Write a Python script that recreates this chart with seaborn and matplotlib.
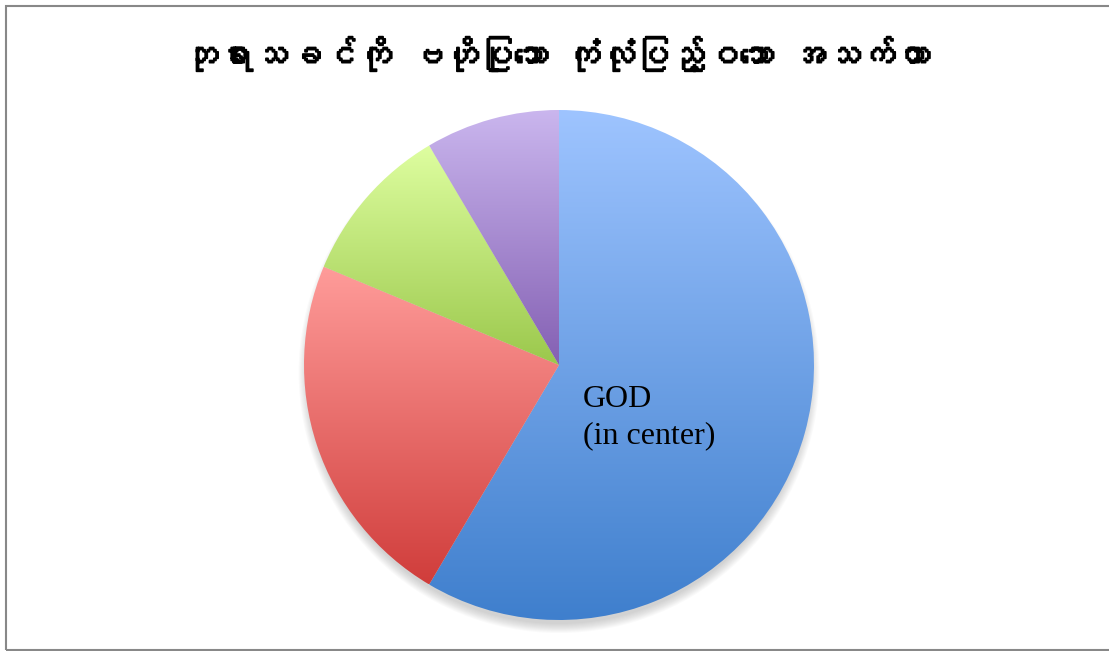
import numpy as np
import seaborn as sns
import matplotlib.pyplot as plt
import matplotlib.patheffects as pe
from matplotlib import font_manager
from matplotlib.ft2font import FT2Font
from matplotlib.patches import Circle, Rectangle

TITLE = "ဘုရားသခင်ကို ဗဟိုပြုသော ကုံလုံပြည့်ဝသော အသက်တာ"
CENTER_LABEL = "GOD\n(in center)"

slice_names = ["GOD (in center)", "slice 2", "slice 3", "slice 4"]
slice_values = [58.5, 22.8, 10.2, 8.5]
# top / bottom colours of each slice's vertical gradient
top_colors = ["#9ec4ff", "#ff9c9a", "#defea0", "#cab6ee"]
bottom_colors = ["#3f7fcd", "#d03d3b", "#9bc84c", "#8460b3"]


def find_font(ch):
    for f in font_manager.fontManager.ttflist:
        try:
            if ord(ch) in FT2Font(f.fname).get_charmap():
                return f.name
        except Exception:
            pass
    return None


sns.set_theme(style="white")
myanmar_font = find_font("ဘ")
title_family = [myanmar_font, "DejaVu Sans"] if myanmar_font else ["DejaVu Sans"]

fig = plt.figure(figsize=(11.09, 6.51), dpi=100)
fig.patch.set_facecolor("white")

# pie centre (559, 365) px, radius 255 px
ax = fig.add_axes([304 / 1109, 31 / 651, 510 / 1109, 510 / 651])

# soft shadow under the pie
for i in range(10):
    ax.add_patch(Circle((0.0, -0.03), 0.985 + i * 0.004, color="#808080",
                        alpha=0.04, lw=0, zorder=0, clip_on=False))

wedges, _ = ax.pie(slice_values, labels=None, startangle=90, counterclock=False,
                   radius=1.0, wedgeprops=dict(linewidth=0))

for w, c0, c1 in zip(wedges, top_colors, bottom_colors):
    w.set_facecolor("none")
    ext = w.get_path().get_extents()
    grad = np.array(sns.blend_palette([c0, c1], n_colors=256))[:, None, :]
    im = ax.imshow(grad, extent=(ext.x0, ext.x1, ext.y0, ext.y1), origin="upper",
                   aspect="auto", zorder=1, interpolation="bilinear")
    im.set_clip_path(w)

ax.set_xlim(-1, 1)
ax.set_ylim(-1, 1)
ax.set_aspect("auto")
ax.axis("off")

ax.text(0.094, -0.08, CENTER_LABEL, ha="left", va="top", fontsize=23,
        family="Liberation Serif", color="black", linespacing=1.3, zorder=3)

fig.text(557 / 1109, 1 - 54 / 651, TITLE, ha="center", va="center",
         fontsize=25, family=title_family, color="black",
         path_effects=[pe.withStroke(linewidth=1.2, foreground="black")])

fig.patches.append(Rectangle((5.5 / 1109, 1.5 / 651), 1.1, 1 - 7 / 651,
                             transform=fig.transFigure, fill=False,
                             edgecolor="#888888", linewidth=1.5))

fig.savefig("out.png", dpi=100)
